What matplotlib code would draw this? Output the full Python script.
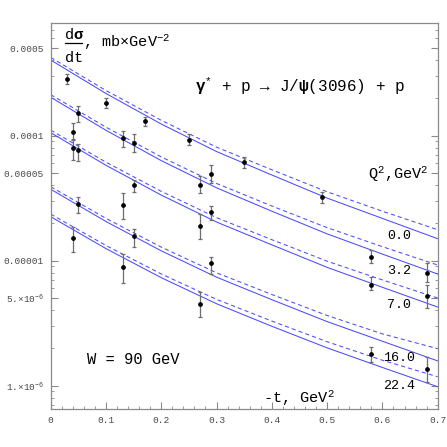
import matplotlib
matplotlib.use("Agg")
import matplotlib.pyplot as plt
from matplotlib.ticker import FixedLocator, NullFormatter
import numpy as np

plt.rcParams['font.family'] = ['Liberation Mono', 'DejaVu Sans Mono', 'DejaVu Sans']
plt.rcParams['mathtext.fontset'] = 'custom'
plt.rcParams['mathtext.rm'] = 'Liberation Mono'
plt.rcParams['mathtext.it'] = 'Liberation Mono'
plt.rcParams['mathtext.bf'] = 'Liberation Mono:bold'
plt.rcParams['lines.scale_dashes'] = False

# ---- data ----
t_curve = [0.0, 0.1, 0.2, 0.3, 0.4, 0.5, 0.6, 0.7]
q2_labels = ["0.0", "3.2", "7.0", "16.0", "22.4"]
solid_q0 = [4.03e-4, 2.176e-4, 1.240e-4, 7.47e-5, 4.85e-5, 3.17e-5, 2.18e-5, 1.50e-5]
solid_q3 = [2.03e-4, 1.105e-4, 6.32e-5, 3.83e-5, 2.49e-5, 1.64e-5, 1.13e-5, 7.83e-6]
solid_q7 = [1.057e-4, 5.80e-5, 3.35e-5, 2.04e-5, 1.34e-5, 8.85e-6, 6.13e-6, 4.26e-6]
solid_q16 = [3.73e-5, 2.06e-5, 1.20e-5, 7.39e-6, 4.88e-6, 3.26e-6, 2.27e-6, 1.58e-6]
solid_q22 = [2.25e-5, 1.25e-5, 7.32e-6, 4.53e-6, 2.99e-6, 2.01e-6, 1.40e-6, 9.82e-7]
dash_q0 = [4.23e-4, 2.30e-4, 1.328e-4, 8.10e-5, 5.34e-5, 3.56e-5, 2.49e-5, 1.77e-5]
dash_q3 = [2.13e-4, 1.170e-4, 6.77e-5, 4.15e-5, 2.74e-5, 1.84e-5, 1.295e-5, 9.24e-6]
dash_q7 = [1.109e-4, 6.14e-5, 3.59e-5, 2.21e-5, 1.474e-5, 9.92e-6, 7.02e-6, 5.03e-6]
dash_q16 = [3.91e-5, 2.18e-5, 1.285e-5, 8.01e-6, 5.37e-6, 3.65e-6, 2.60e-6, 1.98e-6]
dash_q22 = [2.36e-5, 1.324e-5, 7.84e-6, 4.91e-6, 3.29e-6, 2.25e-6, 1.60e-6, 1.18e-6]

t_pts = [0.03, 0.04, 0.04, 0.05, 0.05, 0.10, 0.13, 0.15, 0.17, 0.25, 0.29, 0.27, 0.15, 0.05, 0.13,
         0.29, 0.27, 0.04, 0.13, 0.15, 0.27, 0.29, 0.35, 0.49, 0.58, 0.58, 0.68, 0.68, 0.58, 0.68]
sig_pts = [2.86e-4, 1.08e-4, 7.97e-5, 1.51e-4, 7.69e-5, 1.82e-4, 9.6e-5, 8.8e-5, 1.30e-4, 9.29e-5,
           4.97e-5, 4.06e-5, 4.01e-5, 2.84e-5, 2.81e-5, 2.44e-5, 1.905e-5, 1.52e-5, 8.9e-6, 1.57e-5,
           4.53e-6, 9.53e-6, 6.12e-5, 3.25e-5, 1.08e-5, 6.43e-6, 8.0e-6, 5.21e-6, 1.80e-6, 1.36e-6]
sig_lo = [2.59e-4, 9.24e-5, 6.39e-5, 1.28e-4, 6.31e-5, 1.656e-4, 8.17e-5, 7.45e-5, 1.195e-4, 8.42e-5,
          4.21e-5, 3.46e-5, 3.56e-5, 2.39e-5, 2.144e-5, 2.117e-5, 1.483e-5, 1.167e-5, 6.63e-6, 1.28e-5,
          3.52e-6, 7.83e-6, 5.48e-5, 2.91e-5, 9.53e-6, 5.86e-6, 6.72e-6, 4.16e-6, 1.539e-6, 1.065e-6]
sig_hi = [3.12e-4, 1.256e-4, 9.41e-5, 1.738e-4, 8.53e-5, 1.991e-4, 1.096e-4, 1.026e-4, 1.419e-4, 1.026e-4,
          5.83e-5, 4.79e-5, 4.42e-5, 3.25e-5, 3.46e-5, 2.74e-5, 2.35e-5, 1.871e-5, 1.131e-5, 1.793e-5,
          5.65e-6, 1.065e-5, 6.79e-5, 3.56e-5, 1.225e-5, 7.36e-6, 9.58e-6, 6.39e-6, 2.05e-6, 1.687e-6]

x_ticks = [0, 0.1, 0.2, 0.3, 0.4, 0.5, 0.6, 0.7]
x_ticklabels = ["0", "0.1", "0.2", "0.3", "0.4", "0.5", "0.6", "0.7"]
y_ticks = [1e-6, 5e-6, 1e-5, 5e-5, 1e-4, 5e-4]
y_ticklabels = ["1.×10$^{-6}$", "5.×10$^{-6}$", "0.00001", "0.00005", "0.0001", "0.0005"]

# ---- figure ----
fig = plt.figure(figsize=(4.47, 4.47), dpi=100)
ax = fig.add_axes([0.1134, 0.0843, 0.8658, 0.8636])
ax.set_yscale('log')
ax.set_xlim(0, 0.7)
ax.set_ylim(6.48e-7, 7.93e-4)

blue = '#4b4bff'
solids = [solid_q0, solid_q3, solid_q7, solid_q16, solid_q22]
dashes = [dash_q0, dash_q3, dash_q7, dash_q16, dash_q22]
for s, d in zip(solids, dashes):
    ax.plot(t_curve, s, color=blue, lw=0.75)
    ax.plot(t_curve, d, color=blue, lw=0.75, dashes=(3, 2.2))

sig = np.array(sig_pts)
yerr = [sig - np.array(sig_lo), np.array(sig_hi) - sig]
ax.errorbar(t_pts, sig, yerr=yerr, fmt='o', color='black', ms=2.4, ecolor='#6e6e6e',
            elinewidth=0.9, capsize=1.6, capthick=0.9, zorder=5)

# axes styling
frame = '#8a8a8a'
for sp in ax.spines.values():
    sp.set_color(frame)
    sp.set_linewidth(0.9)

ax.xaxis.set_major_locator(FixedLocator(x_ticks))
ax.set_xticklabels(x_ticklabels)
ax.xaxis.set_minor_locator(FixedLocator(np.arange(0, 0.71, 0.02)))
ax.yaxis.set_major_locator(FixedLocator(y_ticks))
ax.set_yticklabels(y_ticklabels)
minor_y = [m * 10.0 ** e for e in range(-7, -2) for m in (2, 3, 4, 6, 7, 8, 9)]
ax.yaxis.set_minor_locator(FixedLocator(minor_y))
ax.yaxis.set_minor_formatter(NullFormatter())

ax.tick_params(axis='both', which='both', direction='in', colors=frame,
               labelcolor='#4a4a4a', labelsize=6.8)
ax.tick_params(axis='y', which='both', right=True, left=True, pad=5)
ax.tick_params(axis='x', which='both', top=False, pad=5)
ax.tick_params(which='major', length=5, width=0.8)
ax.tick_params(which='minor', length=2.5, width=0.6)

# ---- annotations ----
T = ax.transAxes
ax.text(0.060, 0.972, "d$\\mathbf{σ}$", transform=T, ha='center', va='center', fontsize=11)
ax.plot([0.037, 0.0817], [0.948, 0.948], transform=T, color='black', lw=0.9)
ax.text(0.060, 0.910, "dt", transform=T, ha='center', va='center', fontsize=11)
ax.text(0.084, 0.952, ", mb×GeV$^{-2}$", transform=T, ha='left', va='center', fontsize=11)

ax.text(0.373, 0.836, "$\\mathbf{γ}^{*}$ + p → J/$\\mathbf{ψ}$(3096) + p", transform=T,
        ha='left', va='center', fontsize=11.5)
ax.text(0.975, 0.610, "Q$^2$,GeV$^2$", transform=T, ha='right', va='center', fontsize=11)

lab_x = [0.932, 0.932, 0.932, 0.941, 0.941]
lab_y = [0.4497, 0.359, 0.271, 0.133, 0.0596]
for lbl, lx, ly in zip(q2_labels, lab_x, lab_y):
    ax.text(lx, ly, lbl, transform=T, ha='right', va='center', fontsize=9.6)

ax.text(0.093, 0.1285, "W = 90 GeV", transform=T, ha='left', va='center', fontsize=11.2)
ax.text(0.549, 0.030, "-t, GeV$^2$", transform=T, ha='left', va='center', fontsize=11)

fig.savefig("out.png", dpi=100)
